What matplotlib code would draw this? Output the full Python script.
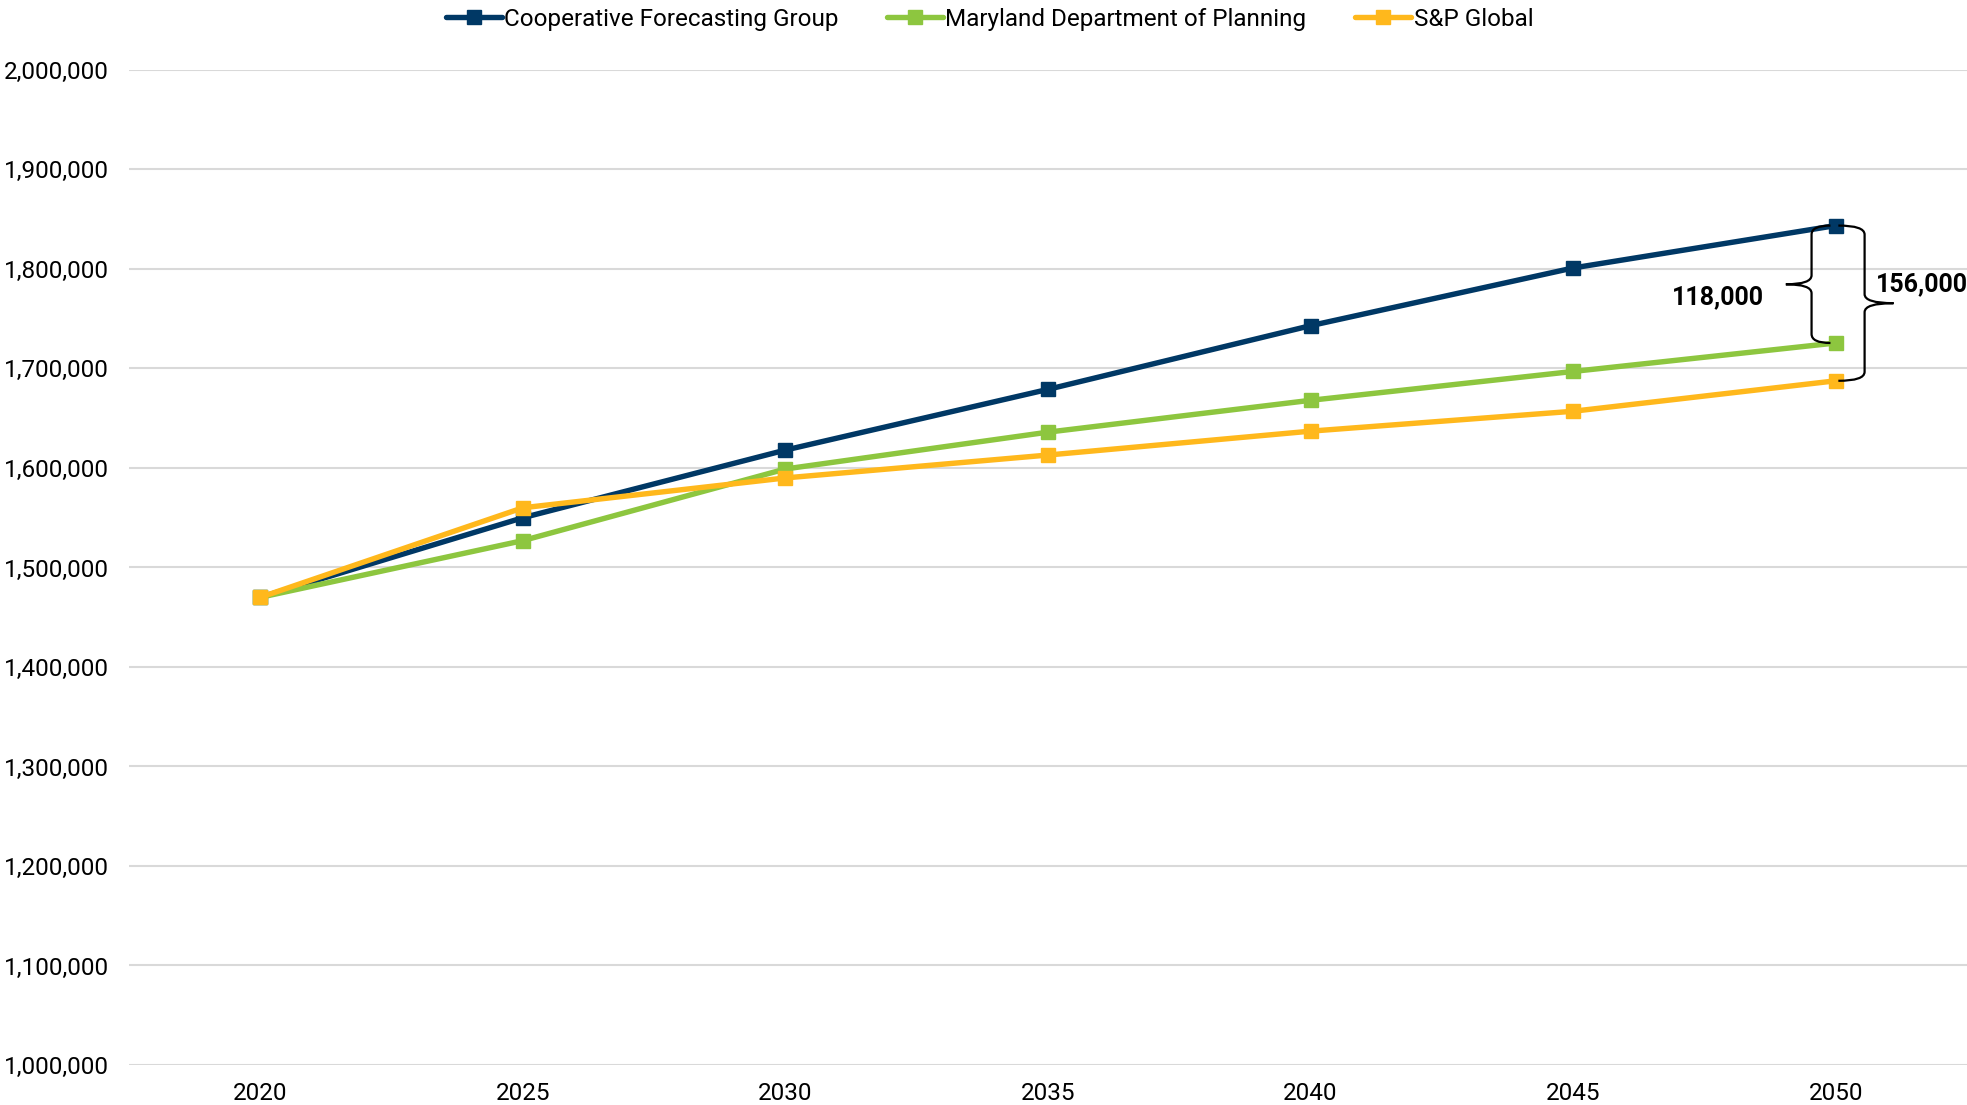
import matplotlib
matplotlib.use("Agg")
import matplotlib.pyplot as plt
from matplotlib.path import Path
from matplotlib.patches import PathPatch
from matplotlib.ticker import FuncFormatter

plt.rcParams['font.family'] = ['Roboto', 'DejaVu Sans']

# data
years = ['2020', '2025', '2030', '2035', '2040', '2045', '2050']
cfg = [1470000, 1550000, 1618000, 1679000, 1743000, 1801000, 1843600]
mdp = [1470000, 1527000, 1599000, 1636000, 1668000, 1697000, 1725600]
sp = [1470000, 1560000, 1590000, 1613000, 1637000, 1657000, 1687600]

series = [
    ("Cooperative Forecasting Group", cfg, '#003865'),
    ("Maryland Department of Planning", mdp, '#8DC63F'),
    ("S&P Global", sp, '#FFB81C'),
]

fig = plt.figure(figsize=(19.67, 11.05), dpi=100)
ax = fig.add_axes([0.0656, 0.0362, 0.9344, 0.9005])

x = list(range(len(years)))
for name, vals, col in series:
    ax.plot(x, vals, color=col, lw=3.9, marker='s', ms=10.5, label=name,
            solid_joinstyle='round', solid_capstyle='round')

ax.set_xlim(-0.5, len(years) - 0.5)
ax.set_ylim(1000000, 2000000)
ax.set_yticks(range(1000000, 2000001, 100000))
ax.yaxis.set_major_formatter(FuncFormatter(lambda v, p: f"{int(v):,}"))
ax.set_xticks(x)
ax.set_xticklabels(years)
ax.tick_params(axis='both', length=0, labelsize=17.5, colors='black')
ax.tick_params(axis='y', pad=14.5)
ax.tick_params(axis='x', pad=12.5)
ax.grid(axis='y', color='#d9d9d9', lw=1.5)
ax.set_axisbelow(True)
for s in ax.spines.values():
    s.set_visible(False)


def brace(ax, xe, xv, xt, y0, y1, r):
    # curly brace from (xe, y0) to (xe, y1), spine at xv, tip at xt
    ym = (y0 + y1) / 2
    verts = [(xe, y0), (xv, y0), (xv, y0 - r),
             (xv, ym + r),
             (xv, ym), (xt, ym),
             (xv, ym), (xv, ym - r),
             (xv, y1 + r),
             (xv, y1), (xe, y1)]
    codes = [Path.MOVETO, Path.CURVE3, Path.CURVE3,
             Path.LINETO,
             Path.CURVE3, Path.CURVE3,
             Path.CURVE3, Path.CURVE3,
             Path.LINETO,
             Path.CURVE3, Path.CURVE3]
    ax.add_patch(PathPatch(Path(verts, codes), fill=False, lw=1.6,
                           color='black', clip_on=False, zorder=5))


last = len(years) - 1
brace(ax, last - 0.02, last - 0.092, last - 0.19, cfg[-1], mdp[-1], 9000)
brace(ax, last + 0.01, last + 0.11, last + 0.22, cfg[-1], sp[-1], 9000)

ax.text(last - 0.45, (cfg[-1] + mdp[-1]) / 2 - 13000,
        f"{round(cfg[-1] - mdp[-1], -3):,.0f}",
        ha='center', va='center', fontsize=18, fontweight='bold')
ax.text(last + 0.155, (cfg[-1] + sp[-1]) / 2 + 19000,
        f"{round(cfg[-1] - sp[-1], -3):,.0f}",
        ha='left', va='center', fontsize=18, fontweight='bold')

fig.legend(loc='upper center', bbox_to_anchor=(0.503, 1.013), ncol=3,
           frameon=False, fontsize=17.5, handlelength=2.3, handletextpad=0.1,
           columnspacing=2.0)

fig.savefig("out.png", dpi=100)
